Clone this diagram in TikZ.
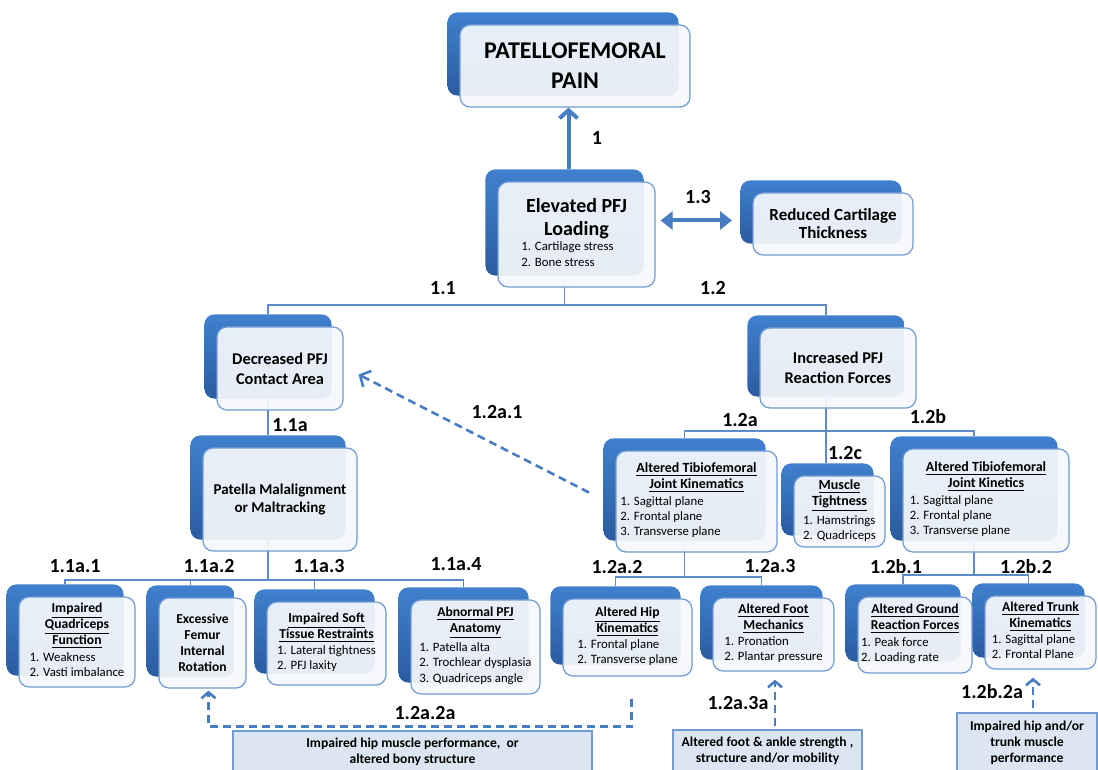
\documentclass[tikz,border=0pt]{standalone}
\usepackage{fontspec}
\setmainfont{Carlito}
\usetikzlibrary{arrows.meta}
\usetikzlibrary{calc}
\usetikzlibrary{fit}
\usetikzlibrary{backgrounds}

\definecolor{pfblue}{RGB}{64,128,206}
\definecolor{pfdark}{RGB}{42,92,160}
\definecolor{pfline}{RGB}{95,140,200}
\definecolor{pfedge}{RGB}{112,155,212}
\definecolor{pffront}{RGB}{245,248,252}
\definecolor{pfflat}{RGB}{220,230,242}
\definecolor{pfarrow}{RGB}{72,125,196}

\newcommand{\uln}[1]{\underline{#1}}
\newcommand{\plist}[1]{{\mdseries\fontsize{6.4}{7.6}\selectfont\begin{tabular}{@{}l@{}}#1\end{tabular}}}

\tikzset{
  pfbox/.style={draw=pfedge, line width=0.6pt, rounded corners=5pt, fill=pffront,
    fill opacity=0.93, text opacity=1, align=center, inner sep=1pt},
  backbox/.style={draw=none, rounded corners=5pt, top color=pfblue, bottom color=pfdark, inner sep=0pt},
  flatbox/.style={draw=pfedge, line width=0.6pt, fill=pfflat, align=center,
    font=\fontsize{6.8}{8}\selectfont\bfseries},
  tree/.style={draw=pfline, line width=0.6pt},
  bigarrow/.style={draw=pfarrow, line width=2pt},
  dasharrow/.style={draw=pfarrow, line width=1.3pt, dash pattern=on 4pt off 2.5pt,
    -{Straight Barb[length=3pt,width=7pt]}},
  lbl/.style={font=\fontsize{10}{12}\selectfont\bfseries, inner sep=0pt},
  tfont/.style={font=\fontsize{7}{8}\selectfont\bfseries},
  bfont/.style={font=\fontsize{6.8}{8}\selectfont\bfseries},
}

\begin{document}
\begin{tikzpicture}[x=0.5pt, y=-0.5pt]
    \useasboundingbox (0,0) rectangle (1098,770);

    \node[pfbox, minimum width=115pt, minimum height=41pt, font=\fontsize{12}{15}\selectfont\bfseries] (pain) at (575,66) {PATELLOFEMORAL\\PAIN};
    \node[pfbox, minimum width=78.5pt, minimum height=52.5pt, font=\fontsize{10}{11.5}\selectfont\bfseries] (load) at (576.5,234.5)
      {Elevated PFJ\\Loading\\\plist{1. Cartilage stress\\2. Bone stress}\hspace*{9pt}};
    \node[pfbox, minimum width=80pt, minimum height=31pt, font=\fontsize{8.5}{9}\selectfont\bfseries] (cart) at (833,224) {Reduced Cartilage\\Thickness};

    \node[pfbox, minimum width=63pt, minimum height=41.5pt, font=\fontsize{8.2}{10}\selectfont\bfseries] (contact) at (280,368.5) {Decreased PFJ\\Contact Area};
    \node[pfbox, minimum width=78pt, minimum height=40pt, font=\fontsize{8.2}{10}\selectfont\bfseries] (react) at (838,368) {Increased PFJ\\Reaction Forces};
    \node[pfbox, minimum width=77pt, minimum height=51.5pt, font=\fontsize{7.5}{9}\selectfont\bfseries] (malal) at (280,499.5) {Patella Malalignment\\or Maltracking};

    \node[pfbox, tfont, minimum width=80.5pt, minimum height=50.5pt] (kinem) at (696.5,501.5)
      {\uln{Altered Tibiofemoral}\\\uln{Joint Kinematics}\\\plist{1. Sagittal plane\\2. Frontal plane\\3. Transverse plane}\hspace*{26pt}};
    \node[pfbox, tfont, minimum width=45.5pt, minimum height=35.5pt] (tight) at (839.5,511.5)
      {\uln{Muscle}\\\uln{Tightness}\\\plist{1. Hamstrings\\2. Quadriceps}};
    \node[pfbox, tfont, minimum width=83pt, minimum height=51.5pt] (kinet) at (986,500.5)
      {\uln{Altered Tibiofemoral}\\\uln{Joint Kinetics}\\\plist{1. Sagittal plane\\2. Frontal plane\\3. Transverse plane}\hspace*{26pt}};

    \node[pfbox, bfont, minimum width=58pt, minimum height=45pt] (quad) at (77,642)
      {\uln{Impaired}\\\uln{Quadriceps}\\\uln{Function}\\\plist{1. Weakness\\2. Vasti imbalance}};
    \node[pfbox, bfont, minimum width=43.5pt, minimum height=45pt] (femur) at (202.5,643)
      {Excessive\\Femur\\Internal\\Rotation};
    \node[pfbox, bfont, minimum width=59.5pt, minimum height=41.5pt] (soft) at (326.5,643.5)
      {\uln{Impaired Soft}\\\uln{Tissue Restraints}\\\plist{1. Lateral tightness\\2. PFJ laxity}};
    \node[pfbox, bfont, minimum width=64.5pt, minimum height=47pt] (anat) at (475.5,647)
      {\uln{Abnormal PFJ}\\\uln{Anatomy}\\\plist{1. Patella alta\\2. Trochlear dysplasia\\3. Quadriceps angle}};
    \node[pfbox, bfont, minimum width=64.5pt, minimum height=38.5pt] (hip) at (627.5,637.5)
      {\uln{Altered Hip}\\\uln{Kinematics}\\\plist{1. Frontal plane\\2. Transverse plane}};
    \node[pfbox, bfont, minimum width=60.5pt, minimum height=36.5pt] (foot) at (773.5,634.5)
      {\uln{Altered Foot}\\\uln{Mechanics}\\\plist{1. Pronation\\2. Plantar pressure}};
    \node[pfbox, bfont, minimum width=57pt, minimum height=38pt] (grf) at (915,635)
      {\uln{Altered Ground}\\\uln{Reaction Forces}\\\plist{1. Peak force\\2. Loading rate}\hspace*{15pt}};
    \node[pfbox, bfont, minimum width=55.5pt, minimum height=36.5pt] (trunk) at (1040.5,632.5)
      {\uln{Altered Trunk}\\\uln{Kinematics}\\\plist{1. Sagittal plane\\2. Frontal Plane}\hspace*{7pt}};

    \node[flatbox, minimum width=179.5pt, minimum height=21pt] (hipperf) at (412.5,752)
      {Impaired hip muscle performance,\ \ or\\altered bony structure};
    \node[flatbox, minimum width=94.5pt, minimum height=21pt] (footstr) at (767.5,751)
      {Altered foot \& ankle strength ,\\structure and/or mobility};
    \node[flatbox, minimum width=70pt, minimum height=29.5pt] (trunkperf) at (1027,742.5)
      {Impaired hip and/or\\trunk muscle\\performance};

    \coordinate (bus1) at (0,305);
    \coordinate (bus2) at (0,431);
    \coordinate (bus3) at (0,580);
    \coordinate (bus4) at (0,577);
    \coordinate (bus5) at (0,575);

    \begin{scope}[on background layer]
      \foreach \n in {pain,load,cart,contact,react,malal,kinem,tight,kinet,quad,femur,soft,anat,hip,foot,grf,trunk}
        \node[backbox, fit=(\n), xshift=-6pt, yshift=6pt] (\n-b) {};

      \draw[tree] (load-b.south) -- (load-b.south |- bus1) -| (contact-b.north);
      \draw[tree] (load-b.south |- bus1) -| (react-b.north);
      \draw[tree] (contact-b.south) -- (contact-b.south |- malal-b.north);
      \draw[tree] (react-b.south) -- (react-b.south |- bus2) -| (kinem-b.north);
      \draw[tree] (react-b.south |- bus2) -| (kinet-b.north);
      \draw[tree] (react-b.south) -- (react-b.south |- tight-b.north);
      \draw[tree] (malal-b.south) -- (malal-b.south |- bus3) -| (quad-b.north);
      \foreach \c in {femur,soft,anat}
        \draw[tree] (malal-b.south |- bus3) -| (\c-b.north);
      \draw[tree] (kinem-b.south) -- (kinem-b.south |- bus4) -| (hip-b.north);
      \draw[tree] (kinem-b.south |- bus4) -| (foot-b.north);
      \draw[tree] (kinet-b.south) -- (kinet-b.south |- bus5) -| (grf-b.north);
      \draw[tree] (kinet-b.south |- bus5) -| (trunk-b.north);
    \end{scope}

    \draw[bigarrow, -{Straight Barb[length=4pt,width=9pt]}] ($(load-b.north)+(2pt,0)$) -- ($(load-b.north |- pain.south)+(2pt,0)$);
    \draw[bigarrow, {Triangle[length=6pt,width=9pt]}-{Triangle[length=6pt,width=9pt]}] ($(load.east)+(2.5pt,7pt)$) -- ($(load.east -| cart-b.west)+(-4pt,7pt)$);

    \draw[dasharrow, -{Straight Barb[length=4pt,width=9pt]}] ($(kinem-b.west)+(-7pt,-1.5pt)$) -- ($(contact.east)+(7.5pt,-3pt)$);
    \draw[dasharrow] ($(hip.south)+(2pt,-11pt)$) |- ($(femur.south)+(3pt,-19pt)$) -- ($(femur.south)+(3pt,-1pt)$);
    \draw[dasharrow] ($(foot.south |- footstr.north)+(0.75pt,1.5pt)$) -- ($(foot.south)+(0.75pt,-4pt)$);
    \draw[dasharrow] ($(trunk.south |- trunkperf.north)+(-3.75pt,2pt)$) -- ($(trunk.south)+(-3.75pt,-4pt)$);

    \node[lbl] (l1) at (597,138) {1};
    \node[lbl] (l13) at (698,197) {1.3};
    \node[lbl] (l11) at (443,288) {1.1};
    \node[lbl] (l12) at (713,288) {1.2};
    \node[lbl] (l11a) at (290,425) {1.1a};
    \node[lbl] (l12a1) at (497,412) {1.2a.1};
    \node[lbl] (l12a) at (740,420) {1.2a};
    \node[lbl] (l12b) at (928,417) {1.2b};
    \node[lbl] (l12c) at (845,453) {1.2c};
    \node[lbl] (l11a1) at (75,566) {1.1a.1};
    \node[lbl] (l11a2) at (209,566) {1.1a.2};
    \node[lbl] (l11a3) at (319,566) {1.1a.3};
    \node[lbl] (l11a4) at (456,564) {1.1a.4};
    \node[lbl] (l12a2) at (617,567) {1.2a.2};
    \node[lbl] (l12a3) at (770,566) {1.2a.3};
    \node[lbl] (l12b1) at (896,567) {1.2b.1};
    \node[lbl] (l12b2) at (1026,567) {1.2b.2};
    \node[lbl] (l12a2a) at (425,713) {1.2a.2a};
    \node[lbl] (l12a3a) at (738,703) {1.2a.3a};
    \node[lbl] (l12b2a) at (992,692) {1.2b.2a};
\end{tikzpicture}
\end{document}
